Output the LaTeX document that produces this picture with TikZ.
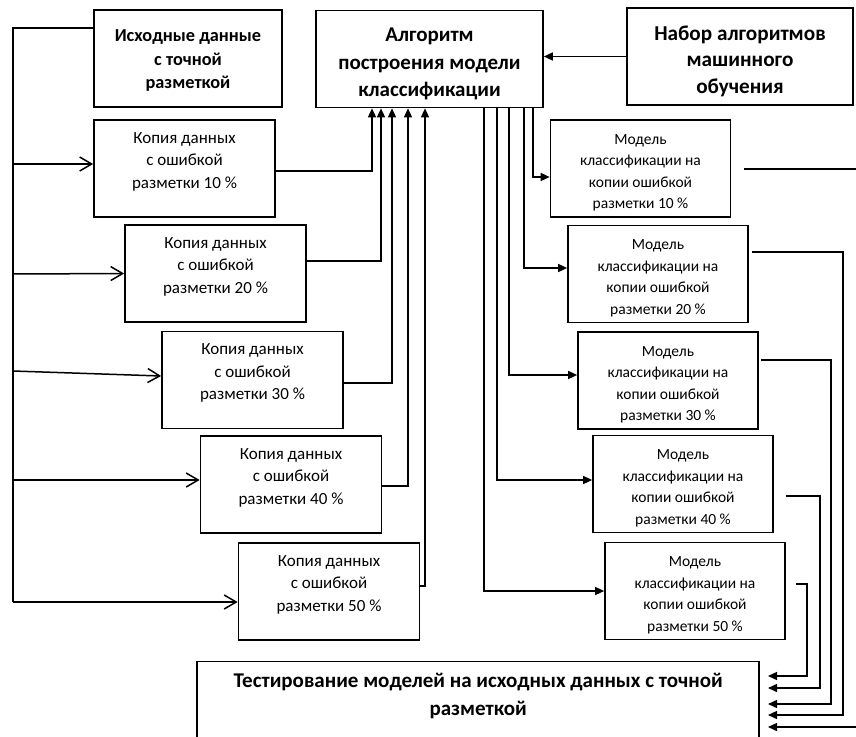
\documentclass[tikz,border=0pt]{standalone}
\usepackage{fontspec}
\setmainfont{Carlito}
\usetikzlibrary{arrows.meta}
\tikzset{>={Triangle[length=9pt,width=8pt]}}
\newcommand\lowr[1]{\mbox{}\\[#1]}

\begin{document}
\begin{tikzpicture}[x=1pt,y=-1pt,line width=1.5pt,
bx/.style={draw,line width=1.7pt,align=center,inner sep=2pt},
headbox/.style={bx,minimum height=97pt},
copybox/.style={bx,minimum width=181pt,minimum height=97pt,font=\fontsize{17}{22.5}\selectfont},
modelbox/.style={bx,minimum width=180pt,minimum height=97pt,font=\fontsize{15.5}{21.5}\selectfont},
opn/.style={-{Straight Barb[length=12pt,width=14pt]}}]
\useasboundingbox (0,0) rectangle (856,736);
\node[headbox,minimum width=188pt,font=\bfseries\fontsize{18.3}{23.5}\selectfont] (src) at (188,58.5) {\lowr{-7.6pt}Исходные данные\\с точной\\разметкой};
\node[headbox,minimum width=227pt,font=\bfseries\fontsize{21}{27.5}\selectfont] (algo) at (429.5,59) {\lowr{-4pt}Алгоритм\\построения модели\\классификации};
\node[headbox,minimum width=226pt,font=\bfseries\fontsize{21.2}{26.5}\selectfont] (mlset) at (740,56.5) {\lowr{-2.3pt}Набор алгоритмов\\машинного\\обучения};
\node[bx,anchor=north,minimum width=562pt,inner ysep=11.5pt,font=\bfseries\fontsize{21}{28}\selectfont] (test) at (478.2,660.7) {Тестирование моделей на исходных данных с точной\\разметкой\\[20pt]\mbox{}};
\foreach \k/\cx/\cy in {1/184.5/168.5, 2/215.5/273.5, 3/252.5/380, 4/291/484.5, 5/329/591.5}
\node[copybox] (copy\k) at (\cx,\cy) {Копия данных\\с ошибкой\\разметки \k0~\%\\[-6pt]\mbox{}};
\foreach \k/\cx/\cy in {1/640.5/168.5, 2/658/274, 3/668/380.5, 4/683/484, 5/695/591}
\node[modelbox] (model\k) at (\cx,\cy) {\lowr{-3.5pt}Модель\\классификации на\\копии ошибкой\\разметки \k0~\%};
\draw[->] (mlset.west) -- (mlset.west -| algo.east);
\foreach \k/\sy in {1/164, 2/274, 3/371, 4/480, 5/602}
\coordinate (sp\k) at (13,\sy);
\draw ([yshift=30.5pt]src.west) -| (sp5);
\foreach \k/\dy in {1/4.5, 2/0, 3/4, 4/4.5, 5/-10.5}
\draw[opn] (sp\k) -- ([yshift=\dy pt]copy\k.west);
\foreach \k/\dy/\ax in {1/-2.5/-57.5, 2/12.5/-48.5, 3/-3/-37.5, 4/-1.5/-21.5, 5/5.5/-4.5}
\draw[->] ([yshift=\dy pt]copy\k.east) -| ([xshift=\ax pt]algo.south);
\foreach \k/\ax/\dy in {1/103.5/-8.5, 2/94.5/6, 3/79.5/5.5, 4/67.5/4, 5/54.5/0}
\draw[->] ([xshift=\ax pt]algo.south) |- ([yshift=\dy pt]model\k.west);
\foreach \k/\gx/\dy/\vx/\ty in {1/13/-0.5/858/727, 2/3/22/843/715, 3/2/20.5/831/704, 4/12/-12/820/688, 5/10/7/807/676} {
\coordinate (rt\k) at (\vx,\ty);
\coordinate (tin\k) at (768,\ty);
\draw[->] ([xshift=\gx pt,yshift=\dy pt]model\k.east) -| (rt\k) -- (tin\k);
}
\end{tikzpicture}
\end{document}
